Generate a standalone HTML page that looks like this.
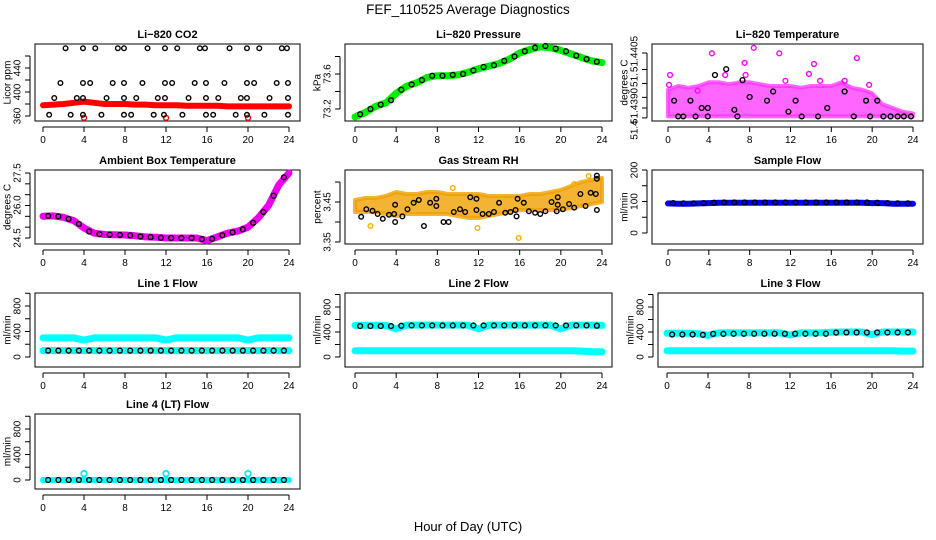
<!DOCTYPE html>
<html><head><meta charset="utf-8">
<style>
html,body{margin:0;padding:0;background:#fff;}
svg{display:block;font-family:"Liberation Sans",Arial,sans-serif;}
.tk{font-size:10px;fill:#000;}
.tt{font-size:11px;font-weight:bold;fill:#000;}
</style></head>
<body>
<svg id="chart" width="936" height="540" viewBox="0 0 936 540">
<rect x="0" y="0" width="936" height="540" fill="#fff"/>
<text x="468" y="14" text-anchor="middle" font-size="13.5">FEF_110525  Average Diagnostics</text>
<text x="468" y="531" text-anchor="middle" font-size="13">Hour of Day (UTC)</text>
</svg>
<script>
// ---- data ----
const hourly = [0,1,2,3,4,5,6,7,8,9,10,11,12,13,14,15,16,17,18,19,20,21,22,23,24];
const halfHours = [0.5,1.5,2.5,3.5,4.5,5.5,6.5,7.5,8.5,9.5,10.5,11.5,12.5,13.5,14.5,15.5,16.5,17.5,18.5,19.5,20.5,21.5,22.5,23.5];
const xTicks = [0,4,8,12,16,20,24];

const co2Band = [378,379,380,382,384,382,380,380,380,379,379,378,378,378,377,377,377,377,376,376,376,376,376,376,376];
const co2PtHours = [2.2,3.9,5.1,7.3,7.9,10.2,11.9,13.1,15.3,15.8,18.2,19.9,21.1,23.3,23.8,
 1.7,3.9,4.6,6.8,7.9,9.7,11.9,12.6,14.8,15.9,17.7,19.9,20.6,22.8,23.9,
 1.1,3.3,3.9,6.2,7.9,9.1,11.2,11.9,14.2,15.9,17.1,19.3,19.9,22.1,23.9,
 0.6,2.7,3.9,5.7,7.9,8.6,10.8,11.8,13.6,15.9,16.6,18.8,19.9,21.6,23.9];
const co2PtVals = [473,473,473,473,473,473,473,473,473,473,473,473,473,473,473,
 415,415,415,415,415,415,415,415,415,415,415,415,415,415,415,
 390,390,390,390,390,390,390,390,390,390,390,390,390,390,390,
 362,362,362,362,362,362,362,362,362,362,362,362,362,362,362];
const co2OutHours = [4,12,20];
const co2OutVals = [357,357,357];

const presBand = [73.11,73.16,73.23,73.27,73.38,73.46,73.5,73.56,73.58,73.58,73.59,73.62,73.66,73.69,73.72,73.77,73.84,73.88,73.91,73.9,73.87,73.83,73.79,73.75,73.73];
const presPts = [73.14,73.2,73.25,73.3,73.42,73.48,73.53,73.58,73.58,73.59,73.6,73.64,73.68,73.7,73.75,73.8,73.86,73.9,73.92,73.89,73.86,73.81,73.77,73.74];

const tempLow = [51.43877,51.43877,51.43877,51.43877,51.43877,51.43877,51.43877,51.43877,51.43877,51.43877,51.43877,51.43877,51.43877,51.43877,51.43877,51.43877,51.43877,51.43877,51.43877,51.43877,51.43877,51.43877,51.43877,51.43877,51.43877];
const tempHigh = [51.4395,51.4396,51.43955,51.4396,51.4397,51.4397,51.43965,51.4397,51.4397,51.43965,51.4396,51.4396,51.4396,51.43955,51.4396,51.4396,51.4396,51.4397,51.43955,51.4395,51.4394,51.4391,51.4390,51.4389,51.43885];
const tempOutHours = [4.3,8.4,10.9,7.5,14.3,18.5,13.8,0.2,7.6,5.6,0.1,2.9,14.9,11.5,17.3,19.7];
const tempOutVals = [51.44049,51.44064,51.44049,51.44023,51.4402,51.44036,51.43993,51.4399,51.4399,51.4399,51.43963,51.43947,51.43974,51.43974,51.43974,51.43963];
const tempBlkHours = [1.0,1.5,2.7,3.9,6.8,13.1,14.7,18.2,19.8,21.1,21.8,22.5,23.1,23.8,0.6,2.2,3.3,3.9,6.5,4.6,5.7,7.3,10.3,17.3,9.7,8.0,11.8,15.6,19.4,20.5,12.5];
const tempBlkVals = [51.43877,51.43877,51.43877,51.43877,51.43877,51.43877,51.43877,51.43877,51.43877,51.43877,51.43877,51.43877,51.43877,51.43877,51.4392,51.4392,51.4390,51.4390,51.43895,51.4399,51.44006,51.43976,51.43945,51.43945,51.4392,51.4393,51.4389,51.4390,51.4392,51.4392,51.4392];

const ambBand = [25.5,25.52,25.45,25.3,24.96,24.72,24.66,24.65,24.64,24.6,24.55,24.53,24.5,24.5,24.5,24.5,24.38,24.55,24.72,24.82,25.0,25.43,26.0,26.95,27.5];
const ambPts = [25.52,25.5,25.38,25.15,24.8,24.68,24.65,24.64,24.62,24.57,24.54,24.51,24.5,24.5,24.5,24.45,24.46,24.63,24.76,24.9,25.2,25.7,26.45,27.3];

const rhLow = [3.425,3.425,3.425,3.42,3.415,3.42,3.42,3.42,3.42,3.42,3.415,3.41,3.41,3.415,3.42,3.425,3.43,3.43,3.43,3.43,3.43,3.435,3.44,3.445,3.45];
const rhHigh = [3.455,3.46,3.46,3.465,3.475,3.47,3.47,3.475,3.475,3.47,3.47,3.47,3.47,3.465,3.465,3.465,3.465,3.47,3.47,3.475,3.48,3.49,3.5,3.505,3.51];
const rhOutHours = [15.9,9.5,22.7,21.3,1.5,11.9];
const rhOutVals = [3.36,3.485,3.515,3.495,3.39,3.385];
const rhPtHours = [0.6,1.1,1.7,2.2,2.7,3.3,3.8,3.9,3.9,4.6,5.1,5.7,6.2,6.7,7.3,7.9,7.9,8.6,9.1,9.6,10.2,10.7,11.2,11.8,11.8,12.4,13.0,13.5,14.0,14.6,15.1,15.6,15.7,15.8,16.4,16.9,17.5,18.0,18.5,19.1,19.6,19.7,19.7,20.2,20.8,21.3,21.9,22.4,22.9,23.4,23.5,23.5,23.5];
const rhPtVals = [3.413,3.432,3.428,3.42,3.408,3.418,3.42,3.443,3.40,3.414,3.432,3.448,3.455,3.39,3.448,3.44,3.458,3.40,3.40,3.425,3.432,3.425,3.462,3.458,3.43,3.42,3.42,3.425,3.448,3.423,3.425,3.43,3.414,3.458,3.448,3.427,3.423,3.42,3.427,3.45,3.427,3.462,3.443,3.432,3.445,3.436,3.47,3.44,3.473,3.47,3.43,3.516,3.508];

const sampleBand = [94,93,93,94,95,96,96,96,96,96,96,96,96,96,96,96,96,96,96,96,95,95,93,93,93];
const samplePts = [95,94,94,95,96,97,97,97,97,97,97,97,97,97,97,97,97,97,97,97,96,95,94,94];

const line1Top = [300,300,300,300,265,300,300,300,300,300,300,300,265,300,300,300,300,300,300,300,265,300,300,300,300];
const line1Low = [100,100,100,100,100,100,100,100,100,100,100,100,100,100,100,100,100,100,100,100,100,100,100,100,100];
const line1Pts = [100,100,100,100,100,100,100,100,100,100,100,100,100,100,100,100,100,100,100,100,100,100,100,100];

const line2Top = [505,505,505,505,450,510,510,510,510,510,510,510,450,510,510,510,510,510,510,510,450,510,510,510,505];
const line2Low = [100,100,100,100,100,100,100,100,100,100,100,100,100,100,100,100,100,100,100,100,100,100,95,85,85];
const line2Pts = [495,495,495,495,500,505,505,505,505,505,505,505,505,505,505,505,505,505,505,505,505,505,505,500];

const line3Top = [380,380,380,375,345,385,385,385,385,385,385,385,350,385,385,385,395,400,400,400,360,400,400,400,400];
const line3Low = [100,100,100,100,100,100,100,100,100,100,100,100,100,100,100,100,100,100,100,100,100,100,100,95,95];
const line3Pts = [360,360,360,355,370,370,372,372,372,372,372,372,372,372,372,372,390,392,392,392,392,392,392,392];

const line4Band = [0,0,0,0,0,0,0,0,0,0,0,0,0,0,0,0,0,0,0,0,0,0,0,0,0];
const line4Spikes = [4,12,20];
const line4SpikeVals = [100,100,100];
const line4Pts = [0,0,0,0,0,0,0,0,0,0,0,0,0,0,0,0,0,0,0,0,0,0,0,0];

// ---- drawing ----
const NS = 'http://www.w3.org/2000/svg';
const svg = document.getElementById('chart');
function mk(tag, attrs, parent){const e=document.createElementNS(NS,tag);for(const k in attrs)e.setAttribute(k,attrs[k]);(parent||svg).appendChild(e);return e;}

function panel(cfg){
  const g = mk('g',{});
  
  
  const xs = h => cfg.x0px + (cfg.x24px - cfg.x0px) * h / 24;
  const ys = v => cfg.p1 + (v - cfg.v1) * (cfg.p2 - cfg.p1) / (cfg.v2 - cfg.v1);
  const box = mk('rect',{x:cfg.bx0,y:cfg.by0,width:cfg.bx1-cfg.bx0,height:cfg.by1-cfg.by0,fill:'none',stroke:'#000','stroke-width':1},g);
  
  
  const t = mk('text',{x:(cfg.bx0+cfg.bx1)/2,y:cfg.by0-6,'text-anchor':'middle',class:'tt'},g);
  t.textContent = cfg.title;
  
  
  const xa = mk('g',{},g);
  
  
  const ay = cfg.by1 + 6;
  mk('line',{x1:xs(0),x2:xs(24),y1:ay,y2:ay,stroke:'#000'},xa);
  xTicks.forEach(v=>{
    mk('line',{x1:xs(v),x2:xs(v),y1:ay,y2:ay+5,stroke:'#000'},xa);
    const tx = mk('text',{x:xs(v),y:ay+16,'text-anchor':'middle',class:'tk'},xa);
    tx.textContent = v;
  });
  const ya = mk('g',{},g);
  
  
  const axx = cfg.bx0 - 5;
  const tks = cfg.yTicks;
  mk('line',{x1:axx,x2:axx,y1:ys(tks[0]),y2:ys(tks[tks.length-1]),stroke:'#000'},ya);
  tks.forEach(v=>mk('line',{x1:axx,x2:axx-5,y1:ys(v),y2:ys(v),stroke:'#000'},ya));
  cfg.yLabels.forEach((lb,i)=>{
    const yy = cfg.yLabelPx ? cfg.yLabelPx[i] : ys(lb);
    const tx = mk('text',{x:axx-13,y:yy,'text-anchor':'middle',class:'tk',transform:`rotate(-90 ${axx-13} ${yy})`,dy:'0.35em'},ya);
    tx.textContent = cfg.yLabelText ? cfg.yLabelText[i] : lb;
  });
  const yl = mk('text',{x:cfg.bx0-28,y:(cfg.by0+cfg.by1)/2,'text-anchor':'middle',class:'tk',transform:`rotate(-90 ${cfg.bx0-28} ${(cfg.by0+cfg.by1)/2})`,dy:'0.35em'},g);
  yl.textContent = cfg.ylab;
  
  
  cfg.xs = xs; cfg.ys = ys; cfg.g = g;
  return cfg;
}
function band(p, hours, vals, color, w, name){
  const pts = hours.map((h,i)=>p.xs(h).toFixed(1)+','+p.ys(vals[i]).toFixed(1)).join(' ');
  const e = mk('polyline',{points:pts,fill:'none',stroke:color,'stroke-width':w,'stroke-linejoin':'round','stroke-linecap':'round'},p.g);
  
  
}
function area(p, hours, lo, hi, color, op, name){
  const a = hours.map((h,i)=>p.xs(h).toFixed(1)+','+p.ys(hi[i]).toFixed(1));
  const b = hours.map((h,i)=>p.xs(h).toFixed(1)+','+p.ys(lo[i]).toFixed(1)).reverse();
  const e = mk('polygon',{points:a.concat(b).join(' '),fill:color,'fill-opacity':op,stroke:color,'stroke-opacity':op,'stroke-width':4,'stroke-linejoin':'round'},p.g);
  
  
}
function rings(p, hours, vals, color, r, name, sw){
  const gg = mk('g',{},p.g);
  
  
  hours.forEach((h,i)=>{
    const c = mk('circle',{cx:p.xs(h),cy:p.ys(vals[i]),r:r,fill:'none',stroke:color,'stroke-width':sw||1.4},gg);
    
    
  });
}
const flowTicks=[0,200,400,600,800,1000], flowLabels=[0,400,800];

let p = panel({name:'panel-co2',title:'Li\u2212820 CO2',ylab:'Licor ppm',bx0:35,bx1:300,by0:44,by1:121,x0px:43,x24px:289,v1:360,p1:116,v2:440,p2:68,yTicks:[360,380,400,420,440,460],yLabels:[360,400,440]});
band(p,hourly,co2Band,'#ff0000',6,'co2-band');
rings(p,co2OutHours,co2OutVals,'#ff0000',2.5,'co2-outliers');
rings(p,co2PtHours,co2PtVals,'#000',2.3,'co2-points');

p = panel({name:'panel-pressure',title:'Li\u2212820 Pressure',ylab:'kPa',bx0:345,bx1:612,by0:44,by1:121,x0px:355,x24px:602,v1:73.2,p1:109,v2:73.6,p2:74,yTicks:[73.2,73.4,73.6,73.8],yLabels:[73.2,73.6]});
band(p,hourly,presBand,'#00ee00',7,'pressure-band');
rings(p,halfHours,presPts,'#000',2.4,'pressure-points');

p = panel({name:'panel-li820-temp',title:'Li\u2212820 Temperature',ylab:'degrees C',bx0:652,bx1:923,by0:44,by1:121,x0px:668,x24px:913,v1:51.4390,p1:108,v2:51.4405,p2:53,yTicks:[51.43873,51.4390,51.43929,51.43967,51.44005,51.4405],yLabels:[51.4405,51.44,51.439,51.4385],yLabelPx:[54,80,106,130],yLabelText:['51.4405','51.','51.4390','51.4']});
area(p,hourly,tempLow,tempHigh,'#ff33ff',0.75,'temp-cloud');
rings(p,tempOutHours,tempOutVals,'#ff00ff',2.4,'temp-outliers');
rings(p,tempBlkHours,tempBlkVals,'#000',2.4,'temp-points');

p = panel({name:'panel-ambient',title:'Ambient Box Temperature',ylab:'degrees C',bx0:35,bx1:300,by0:170,by1:244,x0px:43,x24px:289,v1:24.5,p1:238,v2:27.5,p2:173,yTicks:[24.5,25,25.5,26,26.5,27,27.5],yLabels:[24.5,26.0,27.5],yLabelText:['24.5','26.0','27.5'],yLabelPx:[238,205,173]});
band(p,hourly,ambBand,'#ee00ee',7,'ambient-band');
rings(p,halfHours,ambPts,'#000',2.4,'ambient-points');

p = panel({name:'panel-rh',title:'Gas Stream RH',ylab:'percent',bx0:345,bx1:612,by0:170,by1:244,x0px:355,x24px:602,v1:3.35,p1:242,v2:3.45,p2:202,yTicks:[3.35,3.40,3.45,3.50],yLabels:[3.35,3.45],yLabelText:['3.35','3.45']});
area(p,hourly,rhLow,rhHigh,'#f0a000',0.8,'rh-cloud');
rings(p,rhOutHours,rhOutVals,'#ffaa00',2.3,'rh-outliers');
rings(p,rhPtHours,rhPtVals,'#000',2.3,'rh-points');

p = panel({name:'panel-sample-flow',title:'Sample Flow',ylab:'ml/min',bx0:652,bx1:923,by0:170,by1:244,x0px:668,x24px:913,v1:0,p1:233,v2:200,p2:170,yTicks:[0,50,100,150,200],yLabels:[0,100,200]});
band(p,hourly,sampleBand,'#0000ff',6,'sample-band');
rings(p,halfHours,samplePts,'#000',2.4,'sample-points');

p = panel({name:'panel-line1',title:'Line 1 Flow',ylab:'ml/min',bx0:35,bx1:300,by0:293,by1:367,x0px:43,x24px:289,v1:0,p1:357,v2:800,p2:306,yTicks:flowTicks,yLabels:flowLabels});
band(p,hourly,line1Top,'#00ffff',7,'line1-upper-band');
band(p,hourly,line1Low,'#00ffff',7,'line1-lower-band');
rings(p,halfHours,line1Pts,'#000',2.4,'line1-points');

p = panel({name:'panel-line2',title:'Line 2 Flow',ylab:'ml/min',bx0:345,bx1:612,by0:293,by1:367,x0px:355,x24px:602,v1:0,p1:357,v2:800,p2:307,yTicks:flowTicks,yLabels:flowLabels});
band(p,hourly,line2Top,'#00ffff',7,'line2-upper-band');
band(p,hourly,line2Low,'#00ffff',7,'line2-lower-band');
rings(p,halfHours,line2Pts,'#000',2.4,'line2-points');

p = panel({name:'panel-line3',title:'Line 3 Flow',ylab:'ml/min',bx0:658,bx1:923,by0:293,by1:367,x0px:667,x24px:913,v1:0,p1:357,v2:800,p2:307,yTicks:flowTicks,yLabels:flowLabels});
band(p,hourly,line3Top,'#00ffff',7,'line3-upper-band');
band(p,hourly,line3Low,'#00ffff',7,'line3-lower-band');
rings(p,halfHours,line3Pts,'#000',2.4,'line3-points');

p = panel({name:'panel-line4',title:'Line 4 (LT) Flow',ylab:'ml/min',bx0:35,bx1:300,by0:414,by1:489,x0px:43,x24px:289,v1:0,p1:480,v2:800,p2:429,yTicks:flowTicks,yLabels:flowLabels});
band(p,hourly,line4Band,'#00ffff',6,'line4-band');
rings(p,line4Spikes,line4SpikeVals,'#00eeee',2.8,'line4-spikes',1.8);
rings(p,halfHours,line4Pts,'#000',2.4,'line4-points');
</script>
</body></html>
